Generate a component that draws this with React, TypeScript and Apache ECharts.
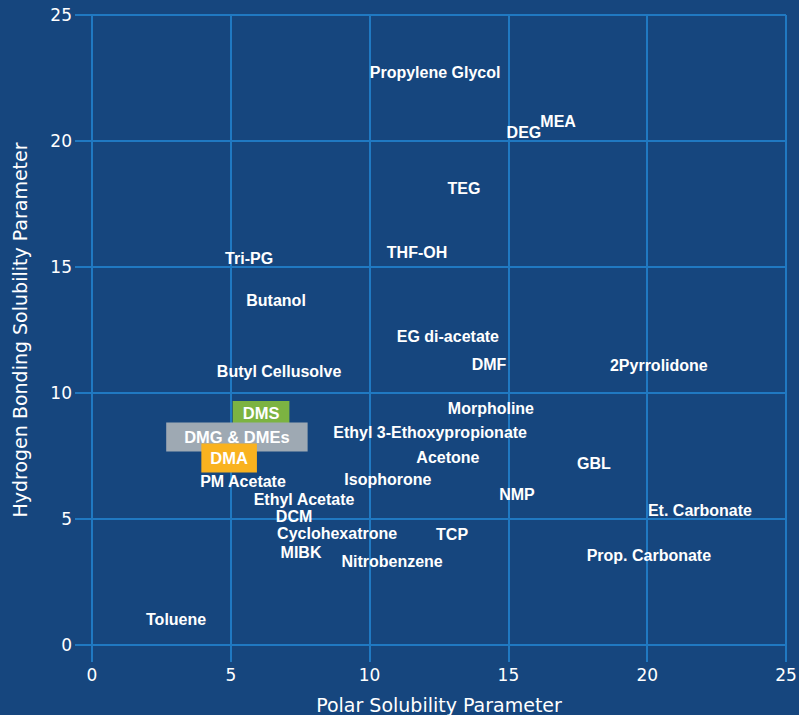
import React, { useEffect, useRef } from "react";
import * as echarts from "echarts";

const solvents: string[] = [
  "Propylene Glycol", "MEA", "DEG", "TEG", "Tri-PG", "THF-OH", "Butanol",
  "EG di-acetate", "DMF", "2Pyrrolidone", "Butyl Cellusolve", "Morpholine",
  "Ethyl 3-Ethoxypropionate", "Acetone", "GBL", "Isophorone", "PM Acetate",
  "NMP", "Ethyl Acetate", "Et. Carbonate", "DCM", "Cyclohexatrone", "TCP",
  "Prop. Carbonate", "MIBK", "Nitrobenzene", "Toluene",
];
const polarValues: number[] = [
  12.36, 16.79, 15.56, 13.4, 5.66, 11.71, 6.63,
  12.82, 14.3, 20.42, 6.74, 14.37,
  12.18, 12.82, 18.08, 10.66, 5.44,
  15.31, 7.64, 21.9, 7.28, 8.83, 12.97,
  20.06, 7.53, 10.81, 3.03,
];
const hbondValues: number[] = [
  22.7, 20.79, 20.32, 18.13, 15.32, 15.56, 13.69,
  12.26, 11.15, 11.11, 10.87, 9.4,
  8.45, 7.46, 7.22, 6.55, 6.47,
  5.99, 5.79, 5.32, 5.08, 4.41, 4.37,
  3.57, 3.69, 3.33, 1.03,
];

const highlightNames: string[] = ["DMS", "DMG & DMEs", "DMA"];
const highlightPolar: number[] = [6.09, 5.22, 4.94];
const highlightHbond: number[] = [9.21, 8.25, 7.42];
const highlightColors: string[] = ["#7cb342", "#9ea9b3", "#f9b21f"];
const highlightPadding: number[][] = [[4, 10, 3, 10], [7, 18, 5, 18], [7, 9, 5, 9]];

const xTicks: number[] = [0, 5, 10, 15, 20, 25];

const FONT = "'Liberation Sans', Arial, Helvetica, sans-serif";
const AXFONT = "'DejaVu Sans', sans-serif";
const GRID = "#2079c2";

export default function App() {
  const ref = useRef<HTMLDivElement>(null);
  useEffect(() => {
    if (!ref.current) return;
    const chart = echarts.init(ref.current, null, { renderer: "svg" });
    const mainData = solvents.map((n, i) => ({ name: n, value: [polarValues[i], hbondValues[i]] }));
    const hiData = highlightNames.map((n, i) => ({
      name: n,
      value: [highlightPolar[i], highlightHbond[i]],
      label: {
        backgroundColor: highlightColors[i],
        padding: highlightPadding[i],
        fontSize: 16.5,
      },
    }));
    chart.setOption({
      animation: false,
      backgroundColor: "#16467e",
      grid: { left: 92, right: 13, top: 15, bottom: 70, outerBoundsMode: "none", containLabel: false },
      xAxis: {
        type: "value",
        min: xTicks[0],
        max: xTicks[xTicks.length - 1],
        interval: 5,
        name: "Polar Solubility Parameter",
        nameLocation: "middle",
        nameGap: 50,
        nameTextStyle: { color: "#ffffff", fontSize: 19, fontFamily: AXFONT },
        axisLine: { show: true, lineStyle: { color: GRID, width: 2 } },
        axisTick: { show: true, length: 17, lineStyle: { color: GRID, width: 2 } },
        axisLabel: { color: "#ffffff", fontSize: 17, fontFamily: AXFONT, margin: 21 },
        splitLine: { show: true, lineStyle: { color: GRID, width: 2 } },
      },
      yAxis: {
        type: "value",
        min: 0,
        max: 25,
        interval: 5,
        name: "Hydrogen Bonding Solubility Parameter",
        nameLocation: "middle",
        nameGap: 63,
        nameTextStyle: { color: "#ffffff", fontSize: 19, fontFamily: AXFONT },
        axisLine: { show: true, lineStyle: { color: GRID, width: 2 } },
        axisTick: { show: true, length: 17, lineStyle: { color: GRID, width: 2 } },
        axisLabel: { color: "#ffffff", fontSize: 17, fontFamily: AXFONT, margin: 20 },
        splitLine: { show: true, lineStyle: { color: GRID, width: 2 } },
      },
      series: [
        {
          type: "scatter",
          symbolSize: 0,
          itemStyle: { opacity: 1 },
          data: mainData,
          label: {
            show: true,
            position: "inside",
            formatter: "{b}",
            color: "#ffffff",
            fontSize: 16,
            fontWeight: "bold",
            fontFamily: FONT,
          },
        },
        {
          type: "scatter",
          symbolSize: 0,
          itemStyle: { opacity: 1 },
          data: hiData,
          label: {
            show: true,
            position: "inside",
            formatter: "{b}",
            color: "#ffffff",
            fontWeight: "bold",
            fontFamily: FONT,
          },
        },
      ],
    });
    return () => chart.dispose();
  }, []);
  return <div ref={ref} style={{ position: "fixed", left: 0, top: 0, width: 799, height: 715 }} />;
}
